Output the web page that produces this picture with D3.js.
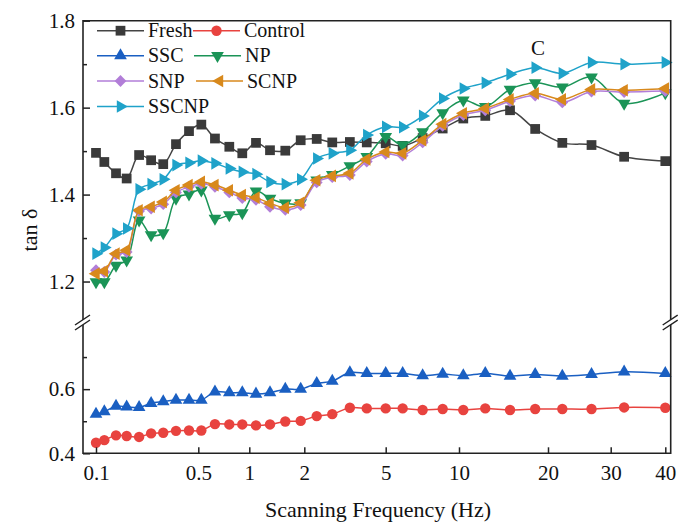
<!DOCTYPE html>
<html><head><meta charset="utf-8">
<script src="https://cdn.jsdelivr.net/npm/d3@7"></script>
<style>html,body{margin:0;padding:0;background:#fff}svg{display:block}</style>
</head><body>
<svg id="c" width="678" height="524"></svg>
<script>
// ---- data ----
const freq = [0.1, 0.114, 0.137, 0.162, 0.197, 0.238, 0.288, 0.352, 0.432, 0.521, 0.627, 0.762, 0.909, 1.088, 1.298, 1.574, 1.911, 2.30, 2.74, 3.34, 4.04, 5.0, 5.87, 7.09, 8.57, 10.34, 12.27, 14.88, 18.1, 21.94, 26.5, 32.2, 40];
const fresh = [1.496, 1.475, 1.449, 1.437, 1.491, 1.479, 1.470, 1.516, 1.546, 1.561, 1.529, 1.510, 1.495, 1.519, 1.502, 1.501, 1.525, 1.528, 1.520, 1.521, 1.520, 1.518, 1.512, 1.530, 1.552, 1.575, 1.581, 1.594, 1.551, 1.519, 1.514, 1.487, 1.477];
const control = [0.433, 0.441, 0.456, 0.454, 0.451, 0.462, 0.464, 0.470, 0.471, 0.471, 0.491, 0.490, 0.490, 0.487, 0.490, 0.499, 0.501, 0.516, 0.522, 0.542, 0.540, 0.540, 0.540, 0.535, 0.538, 0.535, 0.540, 0.535, 0.538, 0.538, 0.538, 0.543, 0.542];
const ssc = [0.522, 0.530, 0.547, 0.545, 0.543, 0.556, 0.561, 0.566, 0.566, 0.566, 0.592, 0.589, 0.589, 0.585, 0.589, 0.600, 0.600, 0.618, 0.625, 0.652, 0.649, 0.649, 0.649, 0.642, 0.647, 0.642, 0.649, 0.641, 0.646, 0.641, 0.646, 0.654, 0.649];
const np = [1.199, 1.199, 1.237, 1.249, 1.341, 1.307, 1.312, 1.391, 1.401, 1.410, 1.345, 1.353, 1.358, 1.408, 1.391, 1.380, 1.381, 1.433, 1.446, 1.466, 1.487, 1.533, 1.514, 1.544, 1.588, 1.617, 1.602, 1.642, 1.657, 1.647, 1.670, 1.610, 1.634];
const snp = [1.226, 1.222, 1.262, 1.268, 1.362, 1.368, 1.378, 1.405, 1.418, 1.425, 1.418, 1.405, 1.392, 1.388, 1.372, 1.365, 1.376, 1.428, 1.440, 1.445, 1.476, 1.494, 1.490, 1.520, 1.558, 1.583, 1.594, 1.615, 1.628, 1.612, 1.637, 1.636, 1.638];
const scnp = [1.218, 1.224, 1.264, 1.272, 1.364, 1.372, 1.383, 1.410, 1.422, 1.429, 1.422, 1.410, 1.399, 1.393, 1.380, 1.370, 1.381, 1.433, 1.443, 1.449, 1.481, 1.498, 1.495, 1.525, 1.562, 1.587, 1.598, 1.619, 1.633, 1.619, 1.642, 1.640, 1.644];
const sscnp = [1.264, 1.278, 1.310, 1.322, 1.412, 1.424, 1.435, 1.468, 1.473, 1.478, 1.472, 1.460, 1.452, 1.447, 1.429, 1.424, 1.435, 1.483, 1.495, 1.502, 1.537, 1.556, 1.555, 1.581, 1.621, 1.644, 1.657, 1.677, 1.692, 1.679, 1.704, 1.700, 1.704];
const seriesNames = ["Fresh", "Control", "SSC", "NP", "SNP", "SCNP", "SSCNP"];
const xTickValues = [0.1, 0.5, 1, 2, 5, 10, 20, 30, 40];
const xTickLabels = ["0.1", "0.5", "1", "2", "5", "10", "20", "30", "40"];
const yUpperTicks = [1.2, 1.4, 1.6, 1.8];
const yUpperMinor = [1.3, 1.5, 1.7];
const yLowerTicks = [0.4, 0.6];
const yLowerMinor = [0.5, 0.7];

// ---- styles ----
const FONT = "'Liberation Serif','Times New Roman',serif";
const series = [
  {name: seriesNames[0], vals: fresh, panel: "up", color: "#444444", mcolor: "#3a3a3a", shape: d3.symbolSquare, rot: 0, size: 95},
  {name: seriesNames[1], vals: control, panel: "lo", color: "#e8433f", mcolor: "#e8433f", shape: d3.symbolCircle, rot: 0, size: 85},
  {name: seriesNames[2], vals: ssc, panel: "lo", color: "#1a5fc2", mcolor: "#1a5fc2", shape: d3.symbolTriangle, rot: 0, size: 70},
  {name: seriesNames[3], vals: np, panel: "up", color: "#1b9457", mcolor: "#1b9457", shape: d3.symbolTriangle, rot: 180, size: 70},
  {name: seriesNames[4], vals: snp, panel: "up", color: "#b27ed8", mcolor: "#b27ed8", shape: d3.symbolSquare, rot: 45, size: 70},
  {name: seriesNames[5], vals: scnp, panel: "up", color: "#d8891c", mcolor: "#d8891c", shape: d3.symbolTriangle, rot: -90, size: 70},
  {name: seriesNames[6], vals: sscnp, panel: "up", color: "#1fa2c9", mcolor: "#1fa2c9", shape: d3.symbolTriangle, rot: 90, size: 70}
];

const svg = d3.select("#c");
const L = 83, R = 670.7, T = 20.7, B = 453.3, BR = 325;

const x = d3.scaleLog().domain(xTickValues).range([96, 198.3, 249.3, 304.3, 385.7, 459, 548, 610.7, 665.3]);
const yUp = d3.scaleLinear().domain([1.1, 1.8]).range([BR, T]);
const yLo = d3.scaleLinear().domain([0.4, 0.8]).range([B, BR]);

// ---- series ----
const line = (ys) => d3.line().x((d, i) => x(freq[i])).y(d => ys(d)).curve(d3.curveCatmullRom.alpha(0.5));
const gSeries = svg.append("g");
series.forEach(s => {
  const ys = s.panel === "up" ? yUp : yLo;
  gSeries.append("path").datum(s.vals).attr("d", line(ys)).attr("fill", "none")
    .attr("stroke", s.color).attr("stroke-width", 1.5);
  gSeries.append("g").selectAll("path").data(s.vals).join("path")
    .attr("d", d3.symbol().type(s.shape).size(s.size))
    .attr("transform", (d, i) => `translate(${x(freq[i])},${ys(d)}) rotate(${s.rot})`)
    .attr("fill", s.mcolor);
});

// ---- frame ----
const frame = svg.append("g").attr("stroke", "#222").attr("stroke-width", 1.6).attr("fill", "none");
frame.append("path").attr("d", `M${L},${T}H${R}V${B}H${L}Z`);

// axes
const fmtX = (d) => xTickLabels[xTickValues.indexOf(d)];
const gx = svg.append("g").attr("transform", `translate(0,${B})`)
  .call(d3.axisBottom(x).tickValues(xTickValues).tickFormat(fmtX).tickSize(-6).tickPadding(12));
gx.select(".domain").remove();

const gyU = svg.append("g").attr("transform", `translate(${L},0)`)
  .call(d3.axisLeft(yUp).tickValues(yUpperTicks).tickFormat(d3.format(".1f")).tickSize(-7).tickPadding(8));
gyU.select(".domain").remove();
const gyUm = svg.append("g").attr("transform", `translate(${L},0)`)
  .call(d3.axisLeft(yUp).tickValues(yUpperMinor).tickFormat("").tickSize(-4));
gyUm.select(".domain").remove();
const gyL = svg.append("g").attr("transform", `translate(${L},0)`)
  .call(d3.axisLeft(yLo).tickValues(yLowerTicks).tickFormat(d3.format(".1f")).tickSize(-7).tickPadding(8));
gyL.select(".domain").remove();
const gyLm = svg.append("g").attr("transform", `translate(${L},0)`)
  .call(d3.axisLeft(yLo).tickValues(yLowerMinor).tickFormat("").tickSize(-4));
gyLm.select(".domain").remove();

svg.selectAll(".tick line").attr("stroke", "#222").attr("stroke-width", 1.5);
svg.selectAll(".tick text").attr("font-family", FONT).attr("font-size", 21).attr("fill", "#111");

// break marks
[L, R].forEach(ax => {
  const g = svg.append("g");
  g.append("path").attr("d", `M${ax - 8},${BR + 5} L${ax + 7},${BR - 5} L${ax + 7},${BR - 10} L${ax - 8},${BR} Z`)
    .attr("fill", "#fff").attr("stroke", "none");
  g.append("path").attr("d", `M${ax - 8},${BR + 5} L${ax + 7},${BR - 5} M${ax - 8},${BR} L${ax + 7},${BR - 10}`)
    .attr("stroke", "#222").attr("stroke-width", 1.5).attr("fill", "none");
});

// titles
svg.append("text").attr("x", 378).attr("y", 517).attr("text-anchor", "middle")
  .attr("font-family", FONT).attr("font-size", 22).attr("fill", "#111").text("Scanning Frequency (Hz)");
svg.append("text").attr("transform", "translate(37,230) rotate(-90)").attr("text-anchor", "middle")
  .attr("font-family", FONT).attr("font-size", 22).attr("fill", "#111").text("tan δ");
svg.append("text").attr("x", 538).attr("y", 55).attr("text-anchor", "middle")
  .attr("font-family", FONT).attr("font-size", 21).attr("fill", "#111").text("C");

// legend
const legendPos = [[97, 30.7], [193, 30.7], [97, 55.7], [194, 55.7], [97, 81], [196, 81], [97, 106.5]];
series.forEach((s, i) => {
  const [lx, ly] = legendPos[i];
  const g = svg.append("g");
  g.append("line").attr("x1", lx).attr("x2", lx + 47).attr("y1", ly).attr("y2", ly)
    .attr("stroke", s.color).attr("stroke-width", 1.5);
  g.append("path").attr("d", d3.symbol().type(s.shape).size(s.size)())
    .attr("transform", `translate(${lx + 23.5},${ly}) rotate(${s.rot})`).attr("fill", s.mcolor);
  g.append("text").attr("x", lx + 51).attr("y", ly).attr("dy", "0.33em")
    .attr("font-family", FONT).attr("font-size", 20).attr("fill", "#111").text(s.name);
});
</script>
</body></html>
